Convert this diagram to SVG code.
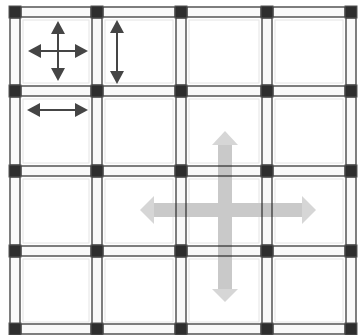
<svg xmlns="http://www.w3.org/2000/svg" width="361" height="335" viewBox="0 0 361 335">
<style>
.beam{fill:#000;fill-opacity:0.025;stroke:#2a2a2a;stroke-width:1.2}
.inner{fill:none;stroke:#e4e4e4;stroke-width:1}
.node rect{fill:#2e2e2e;stroke:#555;stroke-width:1}
.dark{fill:#454545}
.darkline{stroke:#454545;stroke-width:2;fill:none}
.big{fill:#c9c9c9}
.bighead{fill:#d6d6d6}
</style>
<rect width="361" height="335" fill="#fff"/>
<g id="cell-inner">
<rect class="inner" x="23" y="20" width="66" height="63"/>
<rect class="inner" x="105" y="20" width="68" height="63"/>
<rect class="inner" x="189" y="20" width="70" height="63"/>
<rect class="inner" x="275" y="20" width="68" height="63"/>
<rect class="inner" x="23" y="99" width="66" height="64"/>
<rect class="inner" x="105" y="99" width="68" height="64"/>
<rect class="inner" x="189" y="99" width="70" height="64"/>
<rect class="inner" x="275" y="99" width="68" height="64"/>
<rect class="inner" x="23" y="179" width="66" height="64"/>
<rect class="inner" x="105" y="179" width="68" height="64"/>
<rect class="inner" x="189" y="179" width="70" height="64"/>
<rect class="inner" x="275" y="179" width="68" height="64"/>
<rect class="inner" x="23" y="259" width="66" height="63"/>
<rect class="inner" x="105" y="259" width="68" height="63"/>
<rect class="inner" x="189" y="259" width="70" height="63"/>
<rect class="inner" x="275" y="259" width="68" height="63"/>
</g>
<g id="big-cross">
<rect class="big" x="152" y="203" width="150" height="14"/>
<polygon class="bighead" points="140,210 154,196 154,224"/>
<polygon class="bighead" points="316,210 302,196 302,224"/>
<rect class="big" x="218" y="144" width="14" height="146"/>
<polygon class="bighead" points="225,131 212,145 238,145"/>
<polygon class="bighead" points="225,302 212,289 238,289"/>
</g>
<g id="connectors">
<rect class="beam" x="21" y="7" width="70" height="10"/>
<rect class="beam" x="103" y="7" width="72" height="10"/>
<rect class="beam" x="187" y="7" width="74" height="10"/>
<rect class="beam" x="273" y="7" width="72" height="10"/>
<rect class="beam" x="21" y="86" width="70" height="10"/>
<rect class="beam" x="103" y="86" width="72" height="10"/>
<rect class="beam" x="187" y="86" width="74" height="10"/>
<rect class="beam" x="273" y="86" width="72" height="10"/>
<rect class="beam" x="21" y="166" width="70" height="10"/>
<rect class="beam" x="103" y="166" width="72" height="10"/>
<rect class="beam" x="187" y="166" width="74" height="10"/>
<rect class="beam" x="273" y="166" width="72" height="10"/>
<rect class="beam" x="21" y="246" width="70" height="10"/>
<rect class="beam" x="103" y="246" width="72" height="10"/>
<rect class="beam" x="187" y="246" width="74" height="10"/>
<rect class="beam" x="273" y="246" width="72" height="10"/>
<rect class="beam" x="21" y="324" width="70" height="10"/>
<rect class="beam" x="103" y="324" width="72" height="10"/>
<rect class="beam" x="187" y="324" width="74" height="10"/>
<rect class="beam" x="273" y="324" width="72" height="10"/>
<rect class="beam" x="10" y="18" width="10" height="67"/>
<rect class="beam" x="10" y="97" width="10" height="68"/>
<rect class="beam" x="10" y="177" width="10" height="68"/>
<rect class="beam" x="10" y="257" width="10" height="67"/>
<rect class="beam" x="92" y="18" width="10" height="67"/>
<rect class="beam" x="92" y="97" width="10" height="68"/>
<rect class="beam" x="92" y="177" width="10" height="68"/>
<rect class="beam" x="92" y="257" width="10" height="67"/>
<rect class="beam" x="176" y="18" width="10" height="67"/>
<rect class="beam" x="176" y="97" width="10" height="68"/>
<rect class="beam" x="176" y="177" width="10" height="68"/>
<rect class="beam" x="176" y="257" width="10" height="67"/>
<rect class="beam" x="262" y="18" width="10" height="67"/>
<rect class="beam" x="262" y="97" width="10" height="68"/>
<rect class="beam" x="262" y="177" width="10" height="68"/>
<rect class="beam" x="262" y="257" width="10" height="67"/>
<rect class="beam" x="346" y="18" width="10" height="67"/>
<rect class="beam" x="346" y="97" width="10" height="68"/>
<rect class="beam" x="346" y="177" width="10" height="68"/>
<rect class="beam" x="346" y="257" width="10" height="67"/>
</g>
<g id="n00" class="node"><rect x="9" y="6" width="12" height="12"/></g>
<g id="n10" class="node"><rect x="91" y="6" width="12" height="12"/></g>
<g id="n20" class="node"><rect x="175" y="6" width="12" height="12"/></g>
<g id="n30" class="node"><rect x="261" y="6" width="12" height="12"/></g>
<g id="n40" class="node"><rect x="345" y="6" width="12" height="12"/></g>
<g id="n01" class="node"><rect x="9" y="85" width="12" height="12"/></g>
<g id="n11" class="node"><rect x="91" y="85" width="12" height="12"/></g>
<g id="n21" class="node"><rect x="175" y="85" width="12" height="12"/></g>
<g id="n31" class="node"><rect x="261" y="85" width="12" height="12"/></g>
<g id="n41" class="node"><rect x="345" y="85" width="12" height="12"/></g>
<g id="n02" class="node"><rect x="9" y="165" width="12" height="12"/></g>
<g id="n12" class="node"><rect x="91" y="165" width="12" height="12"/></g>
<g id="n22" class="node"><rect x="175" y="165" width="12" height="12"/></g>
<g id="n32" class="node"><rect x="261" y="165" width="12" height="12"/></g>
<g id="n42" class="node"><rect x="345" y="165" width="12" height="12"/></g>
<g id="n03" class="node"><rect x="9" y="245" width="12" height="12"/></g>
<g id="n13" class="node"><rect x="91" y="245" width="12" height="12"/></g>
<g id="n23" class="node"><rect x="175" y="245" width="12" height="12"/></g>
<g id="n33" class="node"><rect x="261" y="245" width="12" height="12"/></g>
<g id="n43" class="node"><rect x="345" y="245" width="12" height="12"/></g>
<g id="n04" class="node"><rect x="9" y="323" width="12" height="12"/></g>
<g id="n14" class="node"><rect x="91" y="323" width="12" height="12"/></g>
<g id="n24" class="node"><rect x="175" y="323" width="12" height="12"/></g>
<g id="n34" class="node"><rect x="261" y="323" width="12" height="12"/></g>
<g id="n44" class="node"><rect x="345" y="323" width="12" height="12"/></g>
<g id="arrow-4way">
<path class="darkline" d="M58 32V70M39 51H77"/>
<polygon class="dark" points="58,21 51,34 65,34"/>
<polygon class="dark" points="58,81 51,68 65,68"/>
<polygon class="dark" points="28,51 41,44 41,58"/>
<polygon class="dark" points="88,51 75,44 75,58"/>
</g>
<g id="arrow-vertical">
<path class="darkline" d="M117 30V75"/>
<polygon class="dark" points="117,20 110,33 124,33"/>
<polygon class="dark" points="117,84 110,71 124,71"/>
</g>
<g id="arrow-horizontal">
<path class="darkline" d="M38 110H77"/>
<polygon class="dark" points="27,110 40,103 40,117"/>
<polygon class="dark" points="88,110 75,103 75,117"/>
</g>
</svg>
